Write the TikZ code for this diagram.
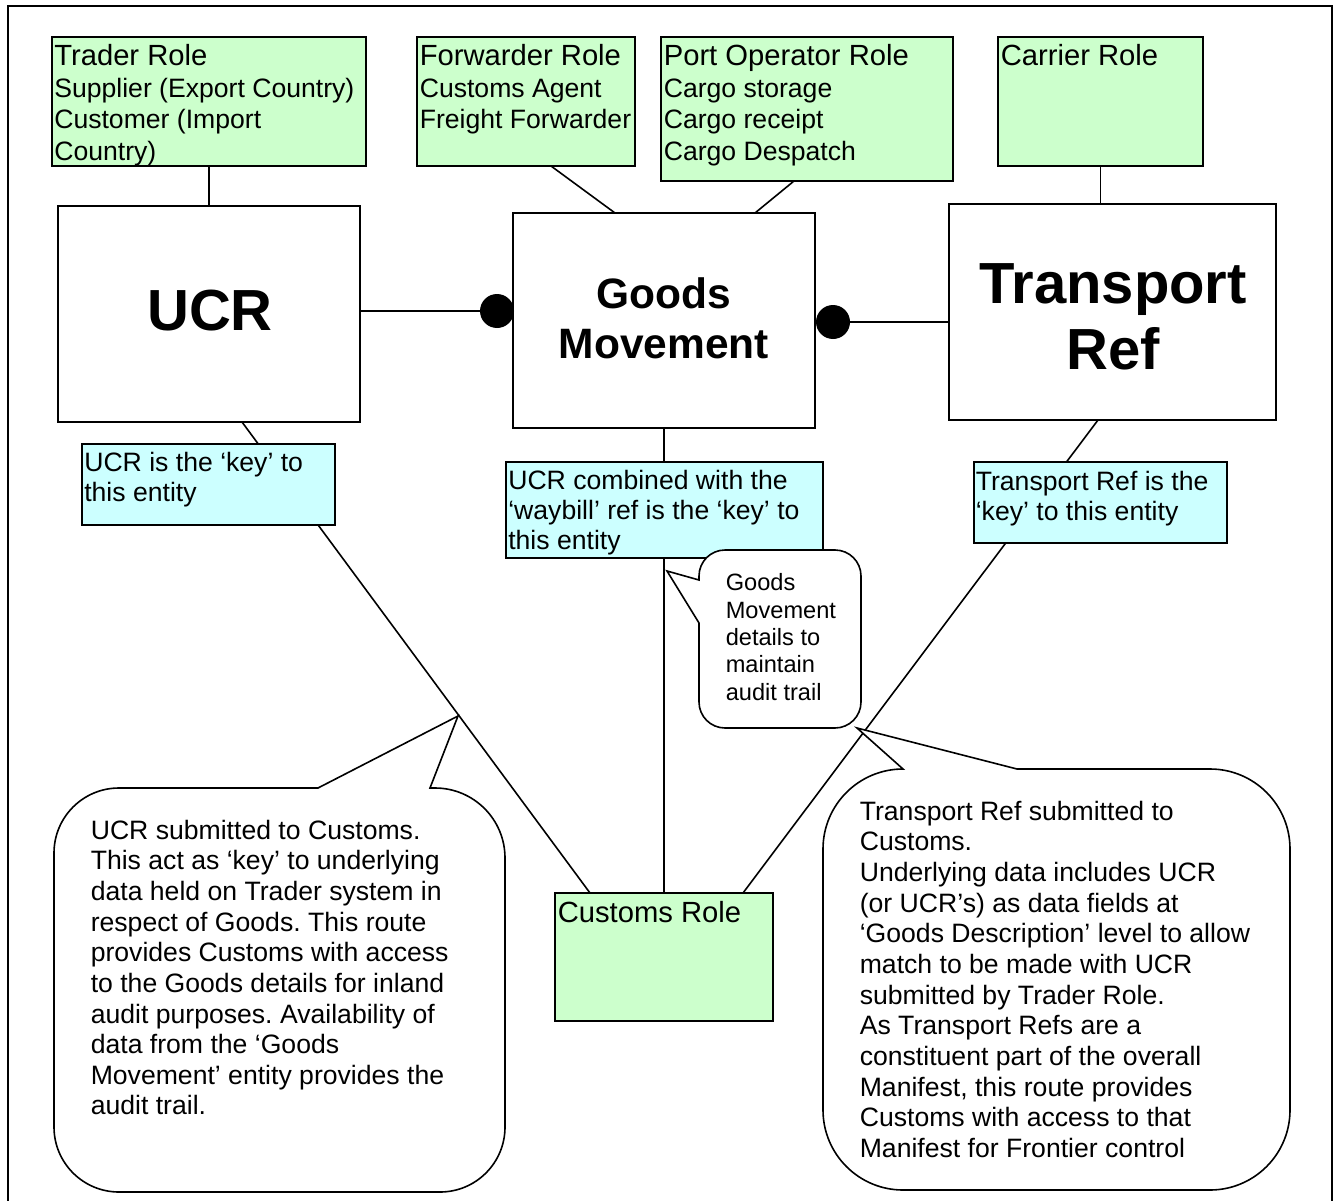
\documentclass[tikz,border=0pt]{standalone}
\usepackage{fontspec}
\setmainfont{Liberation Sans}
\usetikzlibrary{backgrounds}
\definecolor{rolegreen}{HTML}{CCFFCC}
\definecolor{keycyan}{HTML}{CCFFFF}
\newcommand\strutT{\rule{0pt}{22pt}}
\newcommand\strutB{\rule{0pt}{21pt}}
\newcommand\strutS{\rule{0pt}{19pt}}
\frenchspacing
\begin{document}
\begin{tikzpicture}[x=1pt,y=-1pt,line width=1.6pt,
  box/.style={draw, rectangle, inner sep=0pt, outer sep=0pt, anchor=north west},
  role/.style={box, fill=rolegreen},
  keybox/.style={box, fill=keycyan},
  entity/.style={box, fill=white},
  dotnode/.style={circle, fill=black, draw=none, inner sep=0pt, outer sep=0pt, minimum size=34pt},
  link/.style={draw, line width=1.6pt},
  ttl/.style={anchor=north west, inner sep=0pt, align=left, font=\fontsize{29.2}{31.7}\selectfont},
  gbody/.style={anchor=north west, inner sep=0pt, align=left, font=\fontsize{26.6}{31.5}\selectfont},
  kbody/.style={anchor=north west, inner sep=0pt, align=left, font=\fontsize{26.6}{30}\selectfont},
  cbody/.style={anchor=north west, inner sep=0pt, align=left, font=\fontsize{26.6}{30.65}\selectfont},
  sbody/.style={anchor=north west, inner sep=0pt, align=left, font=\fontsize{23.6}{27.3}\selectfont},
  big/.style={anchor=base, inner sep=0pt, font=\fontsize{58}{66}\selectfont\bfseries},
  mid/.style={anchor=base, inner sep=0pt, font=\fontsize{42.5}{49}\selectfont\bfseries},
  bubble/.style={draw, fill=white}]
\useasboundingbox (0,0) rectangle (1338,1201);

% role boxes
\node[role, minimum width=314pt, minimum height=129pt] (trader) at (52,37) {};
\node[role, minimum width=218pt, minimum height=129pt] (forwarder) at (417,37) {};
\node[role, minimum width=292pt, minimum height=144pt] (port) at (661,37) {};
\node[role, minimum width=205pt, minimum height=129pt] (carrier) at (998,37) {};
\node[role, minimum width=218pt, minimum height=128pt] (customs) at (555,893) {};

% entity boxes
\node[entity, minimum width=302pt, minimum height=216pt] (ucr) at (58,206) {};
\node[entity, minimum width=302pt, minimum height=215pt] (goods) at (513,213) {};
\node[entity, minimum width=327pt, minimum height=216pt] (transport) at (949,204) {};

% key boxes
\node[keybox, minimum width=253pt, minimum height=81pt] (ucrkey) at (82,444) {};
\node[keybox, minimum width=317pt, minimum height=96pt] (goodskey) at (506,462) {};
\node[keybox, minimum width=253pt, minimum height=81pt] (transkey) at (974,462) {};

% relationship dots
\node[dotnode] (ldot) at (497,311) {};
\node[dotnode] (rdot) at (833,322) {};

% connectors (behind)
\begin{scope}[on background layer, line width=1.6pt]
\draw[link] (8,6) rectangle (1332,1215);
\draw[link] (trader.south) -- (trader.south |- ucr.north);
\draw[link] ([xshift=134pt]forwarder.south west) -- ([xshift=102pt]goods.north west);
\draw[link] ([xshift=133pt]port.south west) -- ([xshift=242pt]goods.north west);
\draw[link] (carrier.south) -- (carrier.south |- transport.north);
\draw[link] (ldot.center) -- (ldot.center -| ucr.east);
\draw[link] (rdot.center) -- (rdot.center -| transport.west);
\draw[link] ([xshift=184pt]ucr.south west) -- ([xshift=35pt]customs.north west);
\draw[link] (goods.south) -- (goods.south |- customs.north);
\draw[link] ([xshift=149pt]transport.south west) -- ([xshift=-30pt]customs.north east);
\end{scope}

% callouts
\draw[bubble] (119,788) -- (318,788) -- (458,716) -- (430,788) -- (435,788)
  arc[start angle=270, end angle=360, radius=70] -- (505,1127)
  arc[start angle=0, end angle=90, radius=65] -- (119,1192)
  arc[start angle=90, end angle=180, radius=65] -- (54,853)
  arc[start angle=180, end angle=270, radius=65] -- cycle;
\draw[bubble] (725,550) -- (835,550)
  arc[start angle=270, end angle=360, radius=26] -- (861,702)
  arc[start angle=0, end angle=90, radius=26] -- (725,728)
  arc[start angle=90, end angle=180, radius=26] -- (699,623) -- (667,571) -- (699,580) -- (699,576)
  arc[start angle=180, end angle=270, radius=26] -- cycle;
\draw[bubble] (903,769) -- (857,728) -- (1017,769) -- (1210,769)
  arc[start angle=270, end angle=360, radius=80] -- (1290,1110)
  arc[start angle=0, end angle=90, radius=80] -- (903,1190)
  arc[start angle=90, end angle=180, radius=80] -- (823,849)
  arc[start angle=180, end angle=270, radius=80] -- cycle;

% role texts
\node[ttl] (tradert) at (53.5,43) {\strutT Trader Role};
\node[gbody] (traderb) at (53.5,75.5) {\strutB Supplier (Export Country)\\Customer (Import\\Country)};
\node[ttl] (forwardert) at (419,43) {\strutT Forwarder Role};
\node[gbody] (forwarderb) at (419,75.5) {\strutB Customs Agent\\Freight Forwarder};
\node[ttl] (portt) at (663,43) {\strutT Port Operator Role};
\node[gbody] (portb) at (663,75.5) {\strutB Cargo storage\\Cargo receipt\\Cargo Despatch};
\node[ttl] (carriert) at (1000,43) {\strutT Carrier Role};
\node[ttl] (customst) at (557,899.7) {\strutT Customs Role};

% entity texts
\node[big] (ucrt) at (210,330) {UCR};
\node[mid] (goodst1) at (664,308) {Goods};
\node[mid] (goodst2) at (664,358) {Movement};
\node[big] (transt1) at (1113,303) {Transport};
\node[big] (transt2) at (1113,369) {Ref};

% key texts
\node[kbody] (ucrkeyt) at (83.5,449.7) {\strutB UCR is the ‘key’ to\\this entity};
\node[kbody] (goodskeyt) at (507.5,467.3) {\strutB UCR combined with the\\‘waybill’ ref is the ‘key’ to\\this entity};
\node[kbody] (transkeyt) at (975,468.3) {\strutB Transport Ref is the\\‘key’ to this entity};

% callout texts
\node[cbody] (c1t) at (90,817.3) {\strutB UCR submitted to Customs.\\This act as ‘key’ to underlying\\data held on Trader system in\\respect of Goods. This route\\provides Customs with access\\to the Goods details for inland\\audit purposes. Availability of\\data from the ‘Goods\\Movement’ entity provides the\\audit trail.};
\node[sbody] (c2t) at (725,571) {\strutS Goods\\Movement\\details to\\maintain\\audit trail};
\node[cbody] (c3t) at (859,798.5) {\strutB Transport Ref submitted to\\Customs.\\Underlying data includes UCR\\(or UCR’s) as data fields at\\‘Goods Description’ level to allow\\match to be made with UCR\\submitted by Trader Role.\\As Transport Refs are a\\constituent part of the overall\\Manifest, this route provides\\Customs with access to that\\Manifest for Frontier control};
\end{tikzpicture}
\end{document}
